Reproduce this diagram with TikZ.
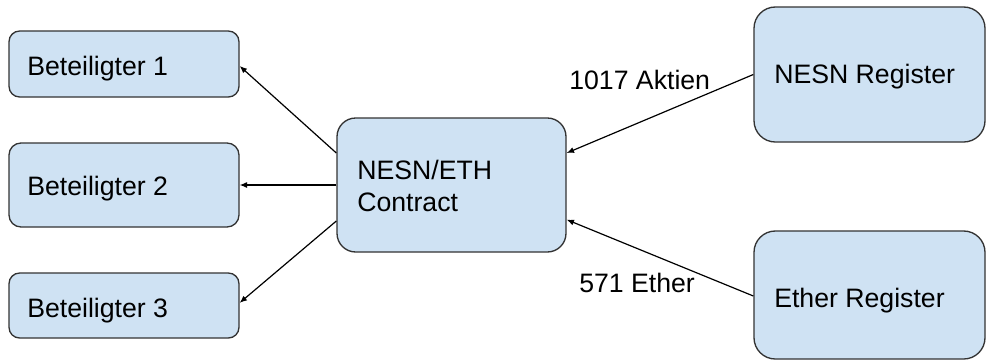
\documentclass[tikz,border=0pt]{standalone}
\usepackage{fontspec}
\setmainfont{Liberation Sans}
\usetikzlibrary{arrows.meta}
\definecolor{boxfill}{HTML}{CFE2F3}
\definecolor{boxline}{HTML}{333333}
\tikzset{
  box/.style={draw=boxline, fill=boxfill, line width=1pt, inner sep=0pt, rounded corners=#1},
  box/.default=8pt,
  lbl/.style={anchor=base west, inner sep=0pt, font=\fontsize{20pt}{24pt}\selectfont, text=black},
  conn/.style={draw=black, line width=0.9pt, -{Latex[length=5.5pt,width=4.5pt]}}
}
\begin{document}
\begin{tikzpicture}[x=0.75pt,y=-0.75pt]
\useasboundingbox (0,0) rectangle (988,362);
% boxes
\node[box=8pt, minimum width=172.5pt, minimum height=49.5pt] (b1) at (124,64) {};
\node[box=9pt, minimum width=172.5pt, minimum height=63pt] (b2) at (124,185) {};
\node[box=8pt, minimum width=172.5pt, minimum height=48.75pt] (b3) at (124,305.5) {};
\node[box=14pt, minimum width=171.75pt, minimum height=100.5pt] (c) at (451.5,185) {};
\node[box=16pt, minimum width=173.25pt, minimum height=101.25pt] (nr) at (869.5,74.5) {};
\node[box=16pt, minimum width=173.25pt, minimum height=96pt] (er) at (869.5,295) {};
% texts
\node[lbl] (t1) at (27,75) {Beteiligter 1};
\node[lbl] (t2) at (27,195) {Beteiligter 2};
\node[lbl] (t3) at (27,317) {Beteiligter 3};
\node[lbl] (tc1) at (357,179) {NESN/ETH};
\node[lbl] (tc2) at (357,211) {Contract};
\node[lbl] (tnr) at (774,83) {NESN Register};
\node[lbl] (ter) at (774,307) {Ether Register};
\node[lbl] (la) at (569,89) {1017 Aktien};
\node[lbl] (le) at (579,292) {571 Ether};
% connectors
\draw[conn] ([yshift=24pt]c.west) -- ([yshift=-1.5pt]b1.east);
\draw[conn] (c.west) -- (b2.east);
\draw[conn] ([yshift=-27pt]c.west) -- ([yshift=2pt]b3.east);
\draw[conn] (nr.west) -- ([yshift=24pt]c.east);
\draw[conn] ([yshift=-0.75pt]er.west) -- ([yshift=-26pt]c.east);
\end{tikzpicture}
\end{document}
